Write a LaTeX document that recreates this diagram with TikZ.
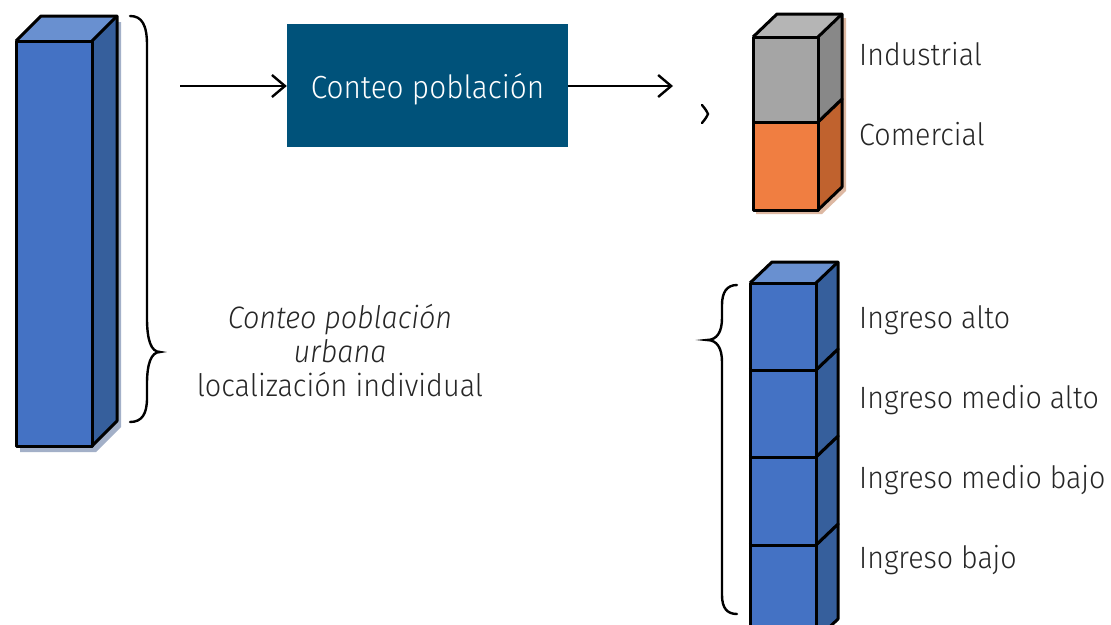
\documentclass[tikz,border=0pt]{standalone}
\usepackage{fontspec}
\setmainfont{Fira Sans}[UprightFont={* Light}, ItalicFont={* Light Italic}, FakeStretch=0.93]
\usetikzlibrary{arrows.meta}
\definecolor{txt}{HTML}{262626}
\definecolor{boxblue}{HTML}{00527A}
\definecolor{bfront}{HTML}{4472C4}
\definecolor{btop}{HTML}{6990D0}
\definecolor{bside}{HTML}{365F9C}
\definecolor{gfront}{HTML}{A5A5A5}
\definecolor{gtop}{HTML}{B5B5B5}
\definecolor{gside}{HTML}{888888}
\definecolor{ofront}{HTML}{F07E41}
\definecolor{oside}{HTML}{C0622E}
\definecolor{bshadow}{HTML}{A3B0C8}
\definecolor{oshadow}{HTML}{DDB8A2}
\newcommand\mycuboid[9]{%
  \fill[#7] (#1,#2) rectangle (#3,#4);
  \fill[#8] (#1,#2) -- ({#1+#5},{#2-#6}) -- ({#3+#5},{#2-#6}) -- (#3,#2) -- cycle;
  \fill[#9] (#3,#2) -- ({#3+#5},{#2-#6}) -- ({#3+#5},{#4-#6}) -- (#3,#4) -- cycle;
  \draw[edge] (#1,#2) rectangle (#3,#4);
  \draw[edge] (#1,#2) -- ({#1+#5},{#2-#6}) -- ({#3+#5},{#2-#6}) -- ({#3+#5},{#4-#6}) -- (#3,#4);
  \draw[edge] (#3,#2) -- ({#3+#5},{#2-#6});
}
\newcommand\myshadow[7]{%
  \fill[#7] (#1,#2) -- ({#1+#5},{#2-#6}) -- ({#3+#5},{#2-#6}) -- ({#3+#5},{#4-#6}) -- (#3,#4) -- (#1,#4) -- cycle;
}
\begin{document}
\begin{tikzpicture}[x=1pt,y=-1pt,
  edge/.style={line width=3pt, line join=round},
  lbl/.style={anchor=base west, inner sep=0pt, text=txt, font=\fontsize{30.8}{36}\selectfont},
  ctr/.style={anchor=base, inner sep=0pt, text=txt, font=\fontsize{31}{36}\selectfont},
  conn/.style={line width=2.4pt, -{Straight Barb[length=13pt,width=22pt,line width=2.4pt]}},
  brace/.style={line width=2.4pt, line cap=round}]
\useasboundingbox (0,0) rectangle (1111,624);
\fill[white] (0,0) rectangle (1111,624);

% tall bar
\myshadow{20}{47}{96}{452}{25}{25}{bshadow}
\mycuboid{16}{41}{92}{446}{25}{25}{bfront}{btop}{bside}

% brace right of tall bar
\draw[brace] (130,16) .. controls (142,16) and (147,25) .. (147,45) -- (147,318)
  .. controls (147,340) and (151,352) .. (160,352)
  .. controls (151,352) and (147,364) .. (147,384) -- (147,398)
  .. controls (147,414) and (142,422) .. (130,422);

% process box and arrows
\node[fill=boxblue, minimum width=281pt, minimum height=123pt, inner sep=0pt] (box) at (427.5,85.5) {};
\node[anchor=base, inner sep=0pt, text=white, font=\fontsize{32}{36}\selectfont] (boxlbl) at (427.5,98) {Conteo población};
\coordinate (a0) at (180,86);
\coordinate (a1) at (673,86);
\draw[conn] (a0) -- (box.west |- a0);
\draw[conn] (box.east |- a1) -- (a1);

% small chevron
\draw[line width=2.4pt, line cap=round] (702,105) .. controls (706,110) .. (708,114) .. controls (706,118) .. (702,123);

% top stack
\myshadow{756}{41}{822}{214}{24}{23}{oshadow}
\mycuboid{753}{122}{818}{210}{24}{23}{ofront}{ofront}{oside}
\mycuboid{753}{37}{818}{122}{24}{23}{gfront}{gtop}{gside}

\node[lbl] (ind) at (859,65) {Industrial};
\node[lbl] (com) at (859,145) {Comercial};

% bottom stack
\mycuboid{750}{545}{816}{640}{22}{21}{bfront}{btop}{bside}
\mycuboid{750}{457}{816}{545}{22}{21}{bfront}{btop}{bside}
\mycuboid{750}{370}{816}{457}{22}{21}{bfront}{btop}{bside}
\mycuboid{750}{283}{816}{370}{22}{21}{bfront}{btop}{bside}

% brace left of bottom stack
\draw[brace] (737,285) .. controls (727,285) and (722,292) .. (722,305) -- (722,318)
  .. controls (722,332) and (717,340) .. (707,340)
  .. controls (717,340) and (722,348) .. (722,362) -- (722,595)
  .. controls (722,608) and (727,614) .. (737,614);

\node[lbl] (ia) at (859,328) {Ingreso alto};
\node[lbl] (ima) at (859,408) {Ingreso medio alto};
\node[lbl] (imb) at (859,488) {Ingreso medio bajo};
\node[lbl] (ib) at (859,568) {Ingreso bajo};

% centre text
\node[ctr] (c1) at (340,328) {\itshape Conteo población};
\node[ctr] (c2) at (340,362) {\itshape urbana};
\node[ctr] (c3) at (340,396) {localización individual};
\end{tikzpicture}
\end{document}
